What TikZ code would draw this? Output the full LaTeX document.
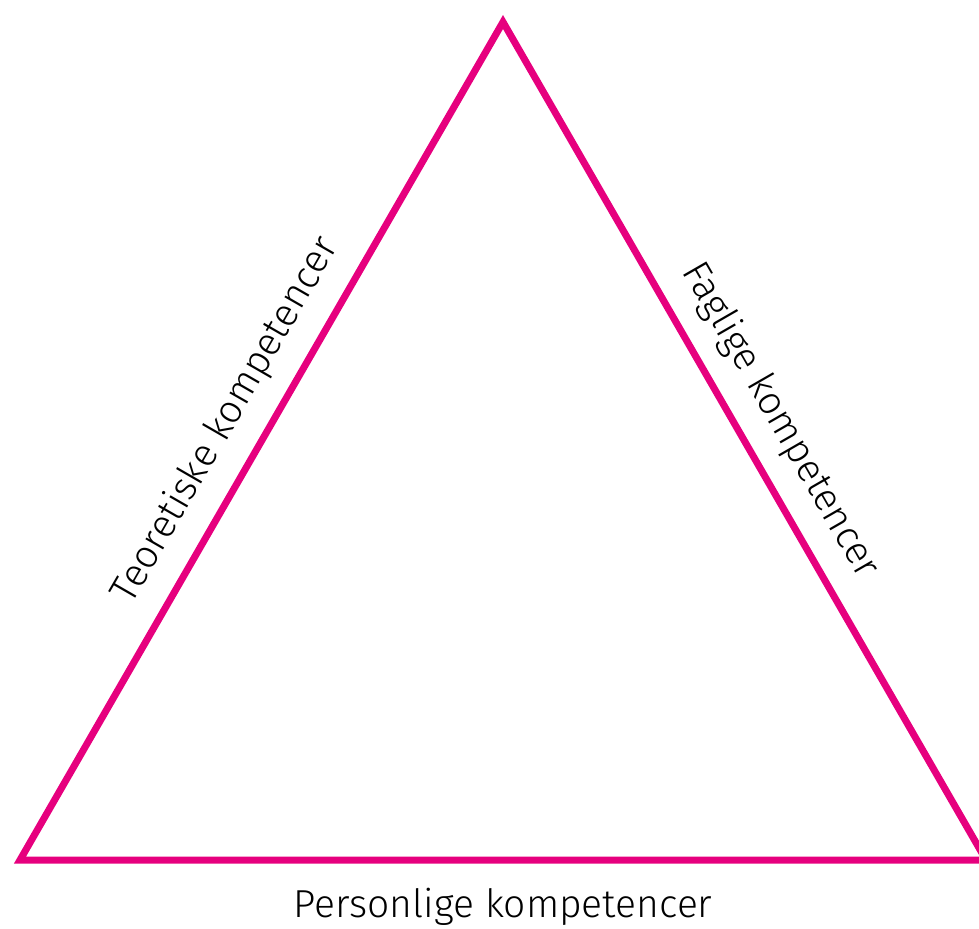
\documentclass[tikz,border=0pt]{standalone}
\usepackage{fontspec}
\setmainfont{Fira Sans}[UprightFont=* Light]
\usepackage{tikz}
\usetikzlibrary{positioning}
\definecolor{kompmagenta}{RGB}{230,0,126}

\begin{document}
\begin{tikzpicture}[x=0.5pt,y=-0.5pt,
    side/.style={line width=3.5pt,kompmagenta,line join=miter},
    kompetence/.style={font=\fontsize{19.5}{22}\selectfont,inner sep=0pt}]
  \useasboundingbox (0,0) rectangle (979,928);

  % corners of the triangle
  \coordinate (top) at (503,22);
  \coordinate (bl) at (20,860);
  \coordinate (br) at (986,860);

  \draw[side] (bl) -- (top) -- (br) -- cycle;

  % labels along the sides
  \path (bl) -- (top)
    node[kompetence,midway,sloped,above=11pt] (teori) {Teoretiske kompetencer};
  \path (top) -- (br)
    node[kompetence,midway,sloped,above=11pt] (fag) {Faglige kompetencer};
  \path (bl) -- (br)
    node[kompetence,midway,below=14pt] (person) {Personlige kompetencer};
\end{tikzpicture}
\end{document}
